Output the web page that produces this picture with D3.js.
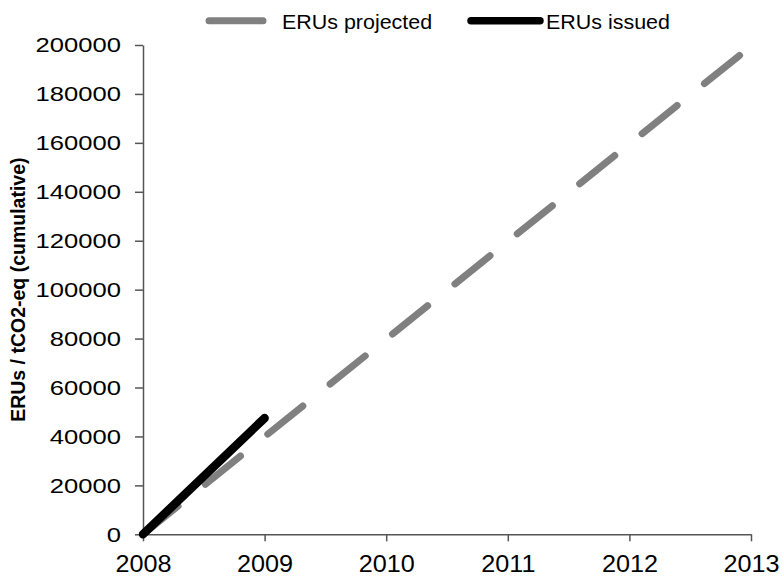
<!DOCTYPE html>
<html>
<head>
<meta charset="utf-8">
<script src="https://cdn.jsdelivr.net/npm/d3@7"></script>
<style>
  body { margin: 0; background: #fff; }
  svg text { font-family: "Liberation Sans", Arial, sans-serif; fill: #000; }
</style>
</head>
<body>
<div id="chart"></div>
<script>
// ---------- data ----------
var projYears = [2008, 2013];
var projValues = [0, 199500];
var issuedYears = [2008, 2009];
var issuedValues = [0, 47500];
var xTickValues = [2008, 2009, 2010, 2011, 2012, 2013];
var yTickValues = [0, 20000, 40000, 60000, 80000, 100000, 120000, 140000, 160000, 180000, 200000];
var seriesNames = ["ERUs projected", "ERUs issued"];
var yTitle = "ERUs / tCO2-eq (cumulative)";

var width = 782, height = 577;
var axisColor = "#555";

var svg = d3.select("#chart").append("svg")
    .attr("width", width)
    .attr("height", height);

var x_scale = d3.scaleLinear().domain([2008, 2013]).range([143, 751]);
var y_scale = d3.scaleLinear().domain([0, 200000]).range([534.3, 45]);

// ---------- axes ----------
var yAxis = d3.axisLeft(y_scale)
    .tickValues(yTickValues)
    .tickFormat(d3.format("d"))
    .tickSize(8)
    .tickSizeOuter(0)
    .tickPadding(14);

var gy = svg.append("g")
    .attr("transform", "translate(" + x_scale(2008) + ",0)")
    .call(yAxis);

var xAxis = d3.axisBottom(x_scale)
    .tickValues(xTickValues)
    .tickFormat(d3.format("d"))
    .tickSize(7)
    .tickSizeOuter(0)
    .tickPadding(14);

var gx = svg.append("g")
    .attr("transform", "translate(0," + y_scale(0) + ")")
    .call(xAxis);

[gx, gy].forEach(function(g) {
  g.select(".domain").attr("stroke", axisColor).attr("stroke-width", 1.5);
  g.selectAll(".tick line").attr("stroke", axisColor).attr("stroke-width", 1.5);
  g.selectAll(".tick text").attr("fill", "#000").attr("font-family", null);
});

// tick labels are a bit stretched horizontally in the original
gy.selectAll(".tick text")
    .attr("font-size", 21)
    .attr("transform", function() { return "translate(" + d3.select(this).attr("x") + ",0) scale(1.22,1)"; })
    .attr("x", 0);

gx.selectAll(".tick text")
    .attr("font-size", 24)
    .attr("transform", "scale(1.05,1)");

// y title
svg.append("text")
    .attr("transform", "translate(25," + ((y_scale(0) + y_scale(200000)) / 2) + ") rotate(-90)")
    .attr("text-anchor", "middle")
    .attr("font-size", 19.5)
    .attr("font-weight", "bold")
    .text(yTitle);

// ---------- lines ----------
var line = d3.line()
    .x(function(d) { return x_scale(d[0]); })
    .y(function(d) { return y_scale(d[1]); });

var projData = d3.zip(projYears, projValues);
var issuedData = d3.zip(issuedYears, issuedValues);

svg.append("path")
    .datum(projData)
    .attr("d", line)
    .attr("fill", "none")
    .attr("stroke", "#808080")
    .attr("stroke-width", 7)
    .attr("stroke-linecap", "round")
    .attr("stroke-dasharray", "45,35");

svg.append("path")
    .datum(issuedData)
    .attr("d", line)
    .attr("fill", "none")
    .attr("stroke", "#000")
    .attr("stroke-width", 8.5)
    .attr("stroke-linecap", "round");

// ---------- legend ----------
var legendItems = [
  {name: seriesNames[0], color: "#808080", x1: 209, x2: 263, tx: 282, sw: 7},
  {name: seriesNames[1], color: "#000", x1: 471, x2: 540, tx: 546, sw: 7.5}
];

var legend = svg.append("g").attr("class", "legend");

legend.selectAll("line").data(legendItems).enter().append("line")
    .attr("x1", function(d) { return d.x1; })
    .attr("x2", function(d) { return d.x2; })
    .attr("y1", 20.7)
    .attr("y2", 20.7)
    .attr("stroke", function(d) { return d.color; })
    .attr("stroke-width", function(d) { return d.sw; })
    .attr("stroke-linecap", "round");

legend.selectAll("text").data(legendItems).enter().append("text")
    .attr("transform", function(d) { return "translate(" + d.tx + ",29) scale(1.1,1)"; })
    .attr("font-size", 19.5)
    .text(function(d) { return d.name; });
</script>
</body>
</html>
